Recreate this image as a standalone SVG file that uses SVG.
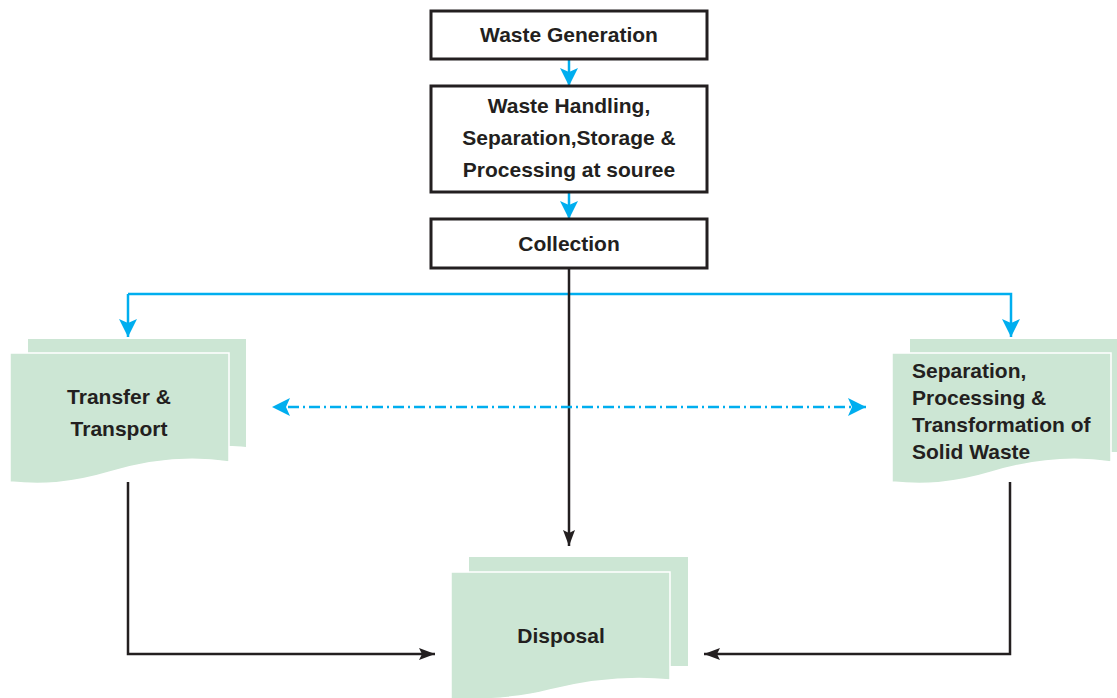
<svg xmlns="http://www.w3.org/2000/svg" width="1117" height="698" viewBox="0 0 1117 698">
<style>
.box{fill:#fff;stroke:#231f20;stroke-width:3}
.doc{fill:#cce6d4}
.front{fill:#cce6d4;stroke:#fff;stroke-width:1.5}
.t{font-family:"Liberation Sans",Arial,sans-serif;font-weight:bold;font-size:21px;fill:#231f20}
.blue{fill:none;stroke:#00aeef;stroke-width:2.5}
.black{fill:none;stroke:#231f20;stroke-width:2.5}
</style>
<defs>
<marker id="ab" markerUnits="userSpaceOnUse" markerWidth="20" markerHeight="20" refX="18" refY="9" orient="auto"><path d="M0,0 L18,9 L0,18 L4,9 Z" fill="#00aeef"/></marker>
<marker id="ak" markerUnits="userSpaceOnUse" markerWidth="18" markerHeight="18" refX="16" refY="6" orient="auto"><path d="M0,0 L16,6 L0,12 L3,6 Z" fill="#231f20"/></marker>
</defs>
<rect width="1117" height="698" fill="#fff"/>
<g id="connectors">
<line class="blue" x1="569" y1="60" x2="569" y2="86" marker-end="url(#ab)"/>
<line class="blue" x1="569" y1="193" x2="569" y2="219" marker-end="url(#ab)"/>
<path class="blue" d="M128,294 H1011 V337" marker-end="url(#ab)"/>
<line class="blue" x1="128" y1="294" x2="128" y2="337" marker-end="url(#ab)"/>
<line class="black" x1="569" y1="269" x2="569" y2="546" marker-end="url(#ak)"/>
<path class="black" d="M128,482 V654 H435" marker-end="url(#ak)"/>
<path class="black" d="M1010,482 V654 H704" marker-end="url(#ak)"/>
<line class="blue" x1="288" y1="407" x2="866" y2="407" stroke-dasharray="11,4,2,4" marker-end="url(#ab)"/>
<path d="M272,407 L290,398 L286,407 L290,416 Z" fill="#00aeef"/>
</g>
<g id="waste-generation">
<rect class="box" x="431" y="11" width="276" height="48"/>
<text class="t" x="569" y="42" text-anchor="middle">Waste Generation</text>
</g>
<g id="waste-handling">
<rect class="box" x="431" y="86" width="276" height="106"/>
<text class="t" x="569" y="113" text-anchor="middle">Waste Handling,</text>
<text class="t" x="569" y="145" text-anchor="middle">Separation,Storage &amp;</text>
<text class="t" x="569" y="177" text-anchor="middle">Processing at souree</text>
</g>
<g id="collection">
<rect class="box" x="431" y="219" width="276" height="49"/>
<text class="t" x="569" y="251" text-anchor="middle">Collection</text>
</g>
<g id="transfer">
<path class="doc" d="M28,339 H246 V447 C220,444 200,448 180,452 L28,452 Z"/>
<path class="front" d="M10,353 H229 V462 C190,456 150,460 110,472 C70,484 40,485 10,482 Z"/>
<text class="t" x="119" y="404" text-anchor="middle">Transfer &amp;</text>
<text class="t" x="119" y="436" text-anchor="middle">Transport</text>
</g>
<g id="separation">
<path class="doc" d="M910,339 H1117 V447 L1117,452 L910,452 Z"/>
<path class="front" d="M892,353 H1111 V462 C1072,456 1032,460 992,472 C952,484 922,485 892,482 Z"/>
<text class="t" x="912" y="378">Separation,</text>
<text class="t" x="912" y="405">Processing &amp;</text>
<text class="t" x="912" y="432">Transformation of</text>
<text class="t" x="912" y="459">Solid Waste</text>
</g>
<g id="disposal">
<path class="doc" d="M469,557 H688 V666 L469,666 Z"/>
<path class="front" d="M451,572 H670 V680 C630,676 590,680 550,690 C520,698 480,700 451,700 Z"/>
<text class="t" x="561" y="643" text-anchor="middle">Disposal</text>
</g>
</svg>
